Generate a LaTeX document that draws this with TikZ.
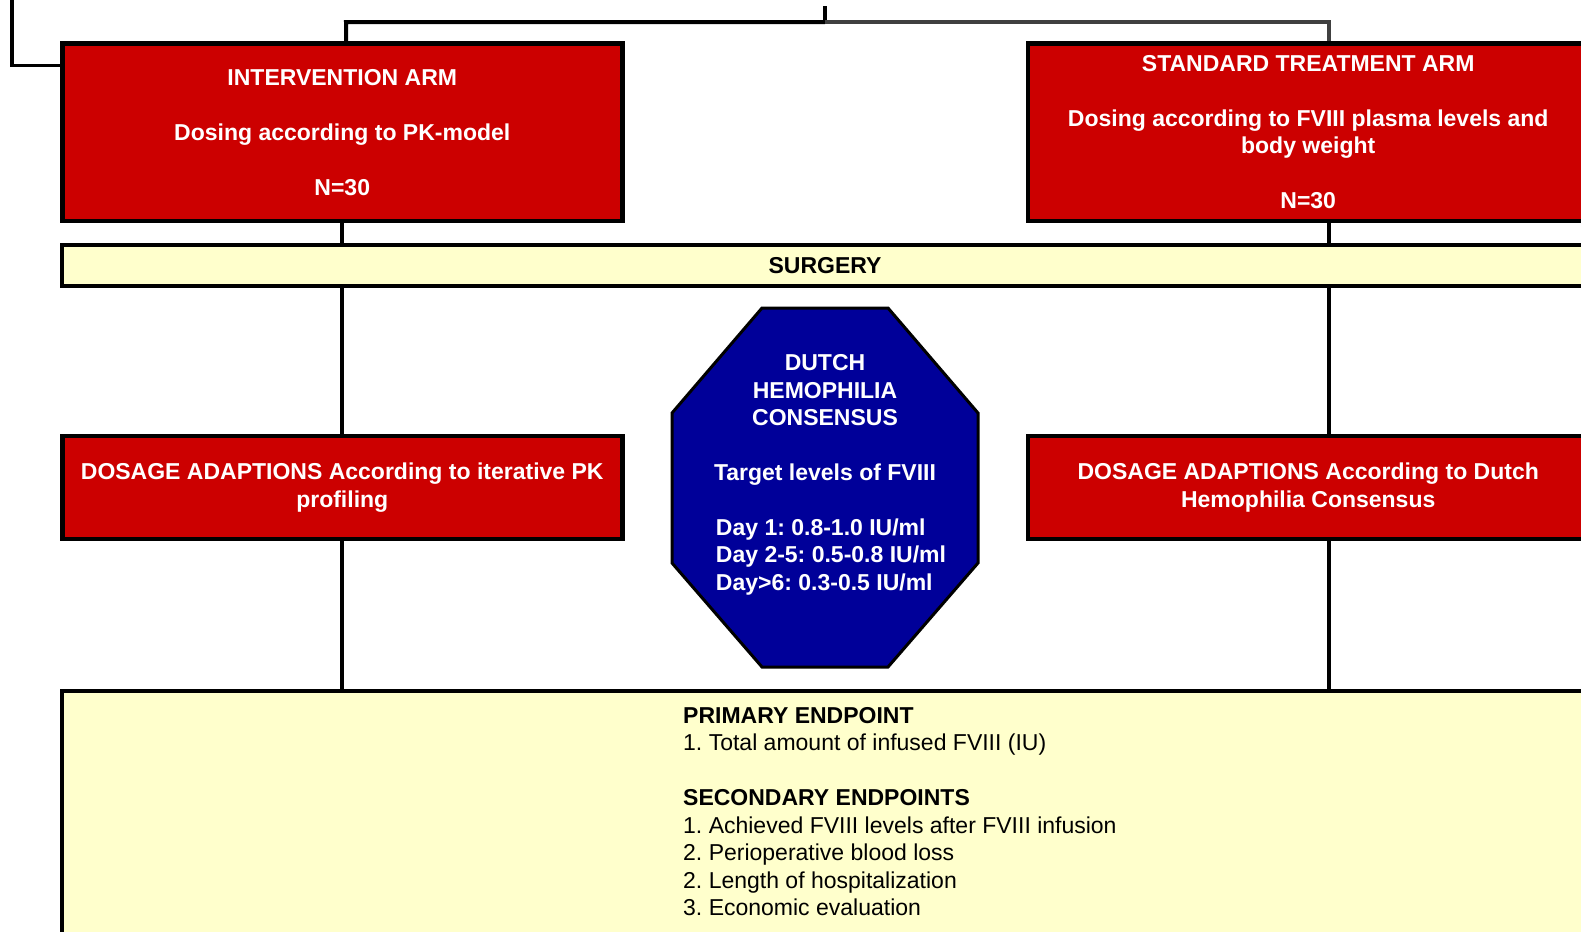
\documentclass[tikz,border=0pt]{standalone}
\usepackage{fontspec}
\setmainfont{Liberation Sans}
\usetikzlibrary{backgrounds}
\frenchspacing
\definecolor{boxred}{RGB}{204,0,0}
\definecolor{navyfill}{RGB}{0,0,153}
\definecolor{paleyellow}{RGB}{255,255,204}
\definecolor{linegray}{RGB}{64,64,64}
\begin{document}
\frenchspacing
\begin{tikzpicture}[x=1pt,y=-1pt,
  txt/.style={font=\fontsize{23}{27.5}\selectfont\frenchspacing},
  boldtxt/.style={font=\fontsize{23}{27.5}\selectfont\bfseries\frenchspacing},
  redbox/.style={draw=black, line width=4.5pt, fill=boxred, text=white, boldtxt, align=center, inner sep=0pt, outer sep=0pt, minimum width=560pt},
  yellowbox/.style={draw=black, line width=4.5pt, fill=paleyellow, inner sep=0pt, outer sep=0pt, minimum width=1526pt},
  conn/.style={line width=4pt, draw=black},
  octo/.style={draw=black, line width=3pt, fill=navyfill, line join=miter}
]
\useasboundingbox (0,0) rectangle (1581,931);

% coordinates for connector ends
\coordinate (cornerTop) at (12,0);
\coordinate (cornerEnd) at (73,65.5);
\coordinate (topL) at (346,22.2);
\coordinate (topM) at (825,22.2);
\coordinate (tickTop) at (825,6);
\coordinate (topR) at (1329,22.2);
\coordinate (rx) at (1329,0);

% boxes
\path (342.25,132.3) node[redbox, minimum height=177.5pt] (int) {INTERVENTION ARM\\[27.5pt]Dosing according to PK-model\\[27.5pt]N=30};
\path (1308.2,132.3) node[redbox, minimum height=177.5pt] (std) {STANDARD TREATMENT ARM\\[27.5pt]Dosing according to FVIII plasma levels and\\body weight\\[27.5pt]N=30};
\path (825,265.5) node[yellowbox, minimum height=41pt, boldtxt] (surg) {SURGERY};
\path (342.25,487.5) node[redbox, minimum height=103pt] (dosL) {DOSAGE ADAPTIONS According to iterative PK\\profiling};
\path (1308.2,487.5) node[redbox, minimum height=103pt] (dosR) {DOSAGE ADAPTIONS According to Dutch\\Hemophilia Consensus};
\path (825,691) node[yellowbox, minimum height=300pt, anchor=north] (endp) {};
\path (683,706.8) node[anchor=north west, align=left, inner sep=0pt, txt] (endtxt)
  {\textbf{PRIMARY ENDPOINT}\\1. Total amount of infused FVIII (IU)\\[27.5pt]\textbf{SECONDARY ENDPOINTS}\\1. Achieved FVIII levels after FVIII infusion\\2. Perioperative blood loss\\2. Length of hospitalization\\3. Economic evaluation};

% octagon
\draw[octo] (762,308) -- (888,308) -- (978,413) -- (978,563) -- (888,667) -- (762,667) -- (672,563) -- (672,413) -- cycle;
\path (825,420) node[boldtxt, text=white, align=center, inner sep=0pt] (cons) {DUTCH\\HEMOPHILIA\\CONSENSUS\\[27.5pt]Target levels of FVIII};
\path (831,557) node[boldtxt, text=white, align=left, inner sep=0pt] (days) {Day 1: 0.8-1.0 IU/ml\\Day 2-5: 0.5-0.8 IU/ml\\Day>6: 0.3-0.5 IU/ml};

% connectors beneath boxes
\begin{scope}[on background layer]
\draw[line width=3.5pt] (cornerTop) |- (cornerEnd);
\draw[conn] ([xshift=4pt]int.north) -- (topL) -- (topM);
\draw[conn] (topM) -- (tickTop);
\draw[conn, draw=linegray] (topM) -- (topR) -- (std.north -| rx);
\draw[conn] (int.south) -- (surg.north -| int.south);
\draw[conn] (surg.south -| dosL.north) -- (dosL.north);
\draw[conn] (dosL.south) -- (endp.north -| dosL.south);
\draw[conn] (std.south -| rx) -- (surg.north -| rx);
\draw[conn] (surg.south -| rx) -- (dosR.north -| rx);
\draw[conn] (dosR.south -| rx) -- (endp.north -| rx);
\end{scope}
\end{tikzpicture}
\end{document}
